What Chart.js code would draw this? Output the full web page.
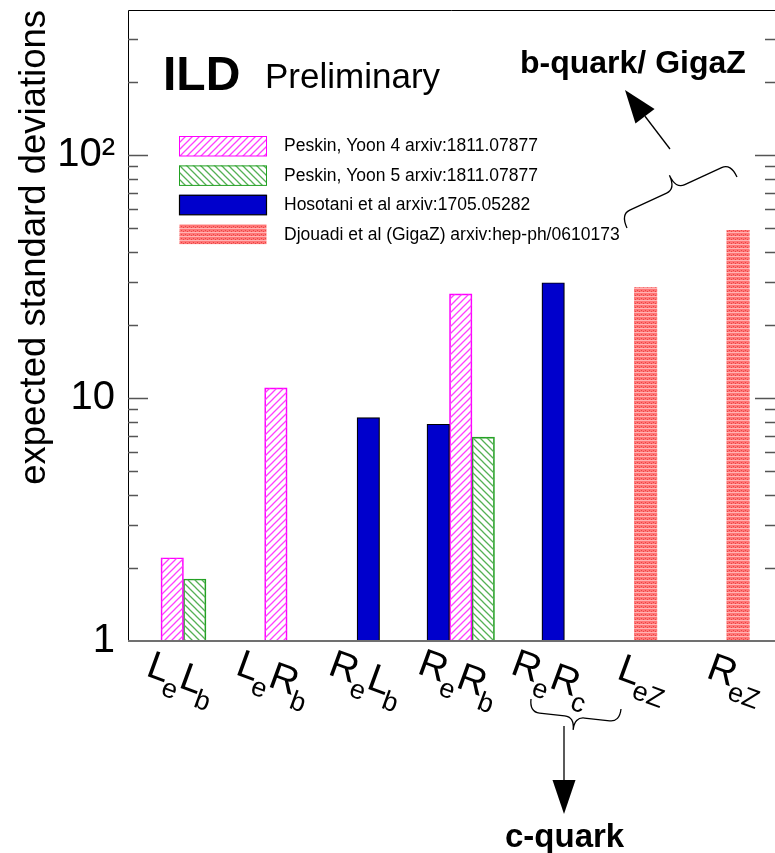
<!DOCTYPE html>
<html>
  <head>
    <meta charset="utf-8">
    <title>ILD Preliminary - expected standard deviations</title>
    <script src="https://cdn.jsdelivr.net/npm/chart.js@4.4.1/dist/chart.umd.min.js"></script>
    <style>
      body { margin: 0; background: #fff; }
      #myChart { display: block; }
    </style>
  </head>
  <body>
    <canvas id="myChart" width="775" height="853"></canvas>

    <script type="text/javascript">
      // categories, subscripts written as X_{sub}
      var categories = ['L_{e}L_{b}', 'L_{e}R_{b}', 'R_{e}L_{b}', 'R_{e}R_{b}', 'R_{e}R_{c}', 'L_{eZ}', 'R_{eZ}'];

      // expected standard deviations
      var hosotani = [null, null, 8.3, 7.8, 29.8, null, null];
      var peskin4  = [2.2, 11.0, null, 26.8, null, null, null];
      var peskin5  = [1.8, null, null, 6.9, null, null, null];
      var djouadi  = [null, null, null, null, null, 28.5, 49.0];

      var seriesNames = [
        'Hosotani et al arxiv:1705.05282',
        'Peskin, Yoon 4 arxiv:1811.07877',
        'Peskin, Yoon 5 arxiv:1811.07877',
        'Djouadi et al (GigaZ) arxiv:hep-ph/0610173'
      ];
      var legendOrder = [1, 2, 0, 3];

      var yLabelValues = [1, 10, 100];
      var yLabelTexts = ['1', '10', '10\u00b2'];

      var FONT = '"Liberation Sans", Arial, Helvetica, sans-serif';
      Chart.defaults.font.family = FONT;
      Chart.defaults.color = '#000';

      function hatch(color, up) {
        var c = document.createElement('canvas');
        c.width = 7; c.height = 7;
        var g = c.getContext('2d');
        g.strokeStyle = color;
        g.lineWidth = 1.3;
        g.beginPath();
        if (up) {
          g.moveTo(-1, 8); g.lineTo(8, -1);
          g.moveTo(-1, 1); g.lineTo(1, -1);
          g.moveTo(6, 8); g.lineTo(8, 6);
        } else {
          g.moveTo(-1, -1); g.lineTo(8, 8);
          g.moveTo(6, -1); g.lineTo(8, 1);
          g.moveTo(-1, 6); g.lineTo(1, 8);
        }
        g.stroke();
        return g.createPattern(c, 'repeat');
      }

      function dots() {
        var c = document.createElement('canvas');
        c.width = 4; c.height = 4;
        var g = c.getContext('2d');
        g.fillStyle = '#ff7676'; g.fillRect(0, 0, 4, 4);
        g.fillStyle = '#ffb4b4'; g.fillRect(0, 0, 4, 1);
        g.fillStyle = '#e84646'; g.fillRect(1, 2, 1, 1); g.fillRect(3, 3, 1, 1);
        return g.createPattern(c, 'repeat');
      }

      function toXY(arr) {
        return arr.map(function(v, i) { return {x: i, y: v}; });
      }

      var styles = [
        {fill: '#0000cc', border: '#000000', width: 1.2},
        {fill: hatch('#ff40ff', true), border: '#ff00ff', width: 1},
        {fill: hatch('#55b055', false), border: '#22a022', width: 1},
        {fill: dots(), border: 'rgba(0,0,0,0)', width: 0}
      ];
      var seriesData = [hosotani, peskin4, peskin5, djouadi];

      var datasets = seriesData.map(function(d, i) {
        return {
          label: seriesNames[i],
          data: toXY(d),
          backgroundColor: styles[i].fill,
          borderColor: styles[i].border,
          borderWidth: styles[i].width
        };
      });

      function parseLabel(txt) {
        var re = /([A-Za-z])_\{(\w+)\}/g, m, parts = [];
        while ((m = re.exec(txt)) !== null) parts.push({main: m[1], sub: m[2]});
        return parts;
      }

      function drawLabel(ctx, txt, cx, cy) {
        var mainFont = '39px ' + FONT, subFont = '27px ' + FONT;
        var parts = parseLabel(txt);
        var w = 0;
        parts.forEach(function(p) {
          ctx.font = mainFont; p.mw = ctx.measureText(p.main).width - 1;
          ctx.font = subFont; p.sw = ctx.measureText(p.sub).width - 1;
          w += p.mw + p.sw;
        });
        var a = 20 * Math.PI / 180;
        ctx.save();
        ctx.translate(cx - w / 2 * Math.cos(a), cy - w / 2 * Math.sin(a));
        ctx.rotate(a);
        ctx.fillStyle = '#000';
        ctx.textBaseline = 'alphabetic';
        ctx.textAlign = 'left';
        var x = 0;
        parts.forEach(function(p) {
          ctx.font = mainFont; ctx.fillText(p.main, x, 0); x += p.mw;
          ctx.font = subFont; ctx.fillText(p.sub, x, 13); x += p.sw;
        });
        ctx.restore();
      }

      function arrow(ctx, x1, y1, x2, y2, len, wid) {
        var dx = x2 - x1, dy = y2 - y1, l = Math.sqrt(dx * dx + dy * dy);
        var ux = dx / l, uy = dy / l;
        var bx = x2 - ux * len, by = y2 - uy * len;
        ctx.beginPath();
        ctx.moveTo(x1, y1); ctx.lineTo(bx, by);
        ctx.stroke();
        ctx.beginPath();
        ctx.moveTo(x2, y2);
        ctx.lineTo(bx - uy * wid / 2, by + ux * wid / 2);
        ctx.lineTo(bx + uy * wid / 2, by - ux * wid / 2);
        ctx.closePath();
        ctx.fill();
      }

      // curly brace from p1 to p2, tip pointing along n
      function brace(ctx, x1, y1, x2, y2, d, nx, ny) {
        var dx = x2 - x1, dy = y2 - y1, l = Math.sqrt(dx * dx + dy * dy);
        var ux = dx / l, uy = dy / l, r = 10;
        var mx = (x1 + x2) / 2, my = (y1 + y2) / 2;
        ctx.beginPath();
        ctx.moveTo(x1, y1);
        ctx.quadraticCurveTo(x1 + nx * d, y1 + ny * d, x1 + nx * d + ux * r, y1 + ny * d + uy * r);
        ctx.lineTo(mx - ux * r + nx * d, my - uy * r + ny * d);
        ctx.quadraticCurveTo(mx + nx * d, my + ny * d, mx + nx * 2 * d, my + ny * 2 * d);
        ctx.quadraticCurveTo(mx + nx * d, my + ny * d, mx + ux * r + nx * d, my + uy * r + ny * d);
        ctx.lineTo(x2 - ux * r + nx * d, y2 - uy * r + ny * d);
        ctx.quadraticCurveTo(x2 + nx * d, y2 + ny * d, x2, y2);
        ctx.stroke();
      }

      var decor = {
        id: 'decor',
        afterDraw: function(chart) {
          var ctx = chart.ctx, area = chart.chartArea;
          var xs = chart.scales.x, ys = chart.scales.y;
          ctx.save();

          // frame
          ctx.strokeStyle = '#000';
          ctx.lineWidth = 1;
          ctx.beginPath();
          ctx.moveTo(area.left + 0.5, area.bottom);
          ctx.lineTo(area.left + 0.5, area.top + 0.5);
          ctx.lineTo(area.right, area.top + 0.5);
          ctx.stroke();
          ctx.strokeStyle = '#707070';
          ctx.lineWidth = 2;
          ctx.beginPath();
          ctx.moveTo(area.left, area.bottom);
          ctx.lineTo(area.right, area.bottom);
          ctx.stroke();

          // log ticks, inward on both sides
          ctx.strokeStyle = '#555';
          ctx.lineWidth = 1.3;
          ys.ticks.forEach(function(t) {
            var v = t.value;
            if (v <= 1) return;
            var m = v / Math.pow(10, Math.floor(Math.log10(v) + 1e-9));
            if (Math.abs(m - Math.round(m)) > 1e-6) return;
            var len = Math.round(m) === 1 ? 20 : 10;
            var y = Math.round(ys.getPixelForValue(v)) + 0.5;
            ctx.beginPath();
            ctx.moveTo(area.left, y); ctx.lineTo(area.left + len, y);
            ctx.moveTo(area.right - len, y); ctx.lineTo(area.right, y);
            ctx.stroke();
          });

          // category labels
          categories.forEach(function(c, i) {
            drawLabel(ctx, c, xs.getPixelForValue(i) - 6, 687);
          });

          // legend
          legendOrder.forEach(function(di, k) {
            var ds = chart.data.datasets[di];
            var top = 136 + k * 29.4;
            ctx.fillStyle = ds.backgroundColor;
            ctx.fillRect(179.5, top, 87, 20);
            if (ds.borderWidth) {
              ctx.strokeStyle = ds.borderColor;
              ctx.lineWidth = ds.borderWidth;
              ctx.strokeRect(179.5, top + 0.5, 87, 19.5);
            }
            ctx.fillStyle = '#000';
            ctx.font = '17.5px ' + FONT;
            ctx.textAlign = 'left';
            ctx.textBaseline = 'middle';
            ctx.fillText(ds.label, 284, top + 10.5);
          });

          // headline texts
          ctx.fillStyle = '#000';
          ctx.textBaseline = 'alphabetic';
          ctx.textAlign = 'left';
          ctx.font = 'bold 48px ' + FONT;
          ctx.fillText('ILD', 163, 90);
          ctx.font = '35px ' + FONT;
          ctx.fillText('Preliminary', 265, 88);
          ctx.font = 'bold 32px ' + FONT;
          ctx.fillText('b-quark/ GigaZ', 520, 73);
          ctx.font = 'bold 33px ' + FONT;
          ctx.fillText('c-quark', 505, 847);

          // braces and arrows
          ctx.strokeStyle = '#000';
          ctx.fillStyle = '#000';
          ctx.lineWidth = 1.3;
          brace(ctx, 627, 228, 737, 177, 15, -0.42, -0.907);
          arrow(ctx, 670, 149, 625, 90, 33, 24);
          brace(ctx, 531, 699, 621, 709, 13, -0.11, 0.994);
          arrow(ctx, 564, 726, 564, 814, 34, 23);

          ctx.restore();
        }
      };

      var ctx = document.getElementById('myChart').getContext('2d');
      var chart = new Chart(ctx, {
        type: 'bar',
        data: { datasets: datasets },
        options: {
          responsive: false,
          animation: false,
          devicePixelRatio: 1,
          layout: { padding: { top: 10, left: 0, right: 0, bottom: 0 } },
          datasets: {
            bar: { grouped: true, skipNull: true, barThickness: 22.5 }
          },
          plugins: {
            legend: { display: false },
            tooltip: { enabled: false }
          },
          scales: {
            x: {
              type: 'linear',
              offset: false,
              min: -0.6,
              max: 6.4,
              grid: { display: false, offset: false },
              border: { display: false },
              ticks: { display: false },
              afterFit: function(s) {
                s.height = 212;
                s.paddingLeft = 0; s.paddingRight = 0;
              }
            },
            y: {
              type: 'logarithmic',
              min: 1,
              max: 395,
              grid: { display: false, drawTicks: false },
              border: { display: false },
              ticks: {
                autoSkip: false,
                padding: 13,
                color: '#000',
                font: { size: 40 },
                callback: function(v) {
                  var i = yLabelValues.indexOf(v);
                  return i < 0 ? '' : yLabelTexts[i];
                }
              },
              title: {
                display: true,
                text: 'expected standard deviations',
                align: 'end',
                color: '#000',
                font: { size: 36.5 },
                padding: { top: 13, bottom: 0 }
              },
              afterFit: function(s) {
                s.width = 128;
                s.paddingTop = 0; s.paddingBottom = 0;
              }
            }
          }
        },
        plugins: [decor]
      });
    </script>
  </body>
</html>
